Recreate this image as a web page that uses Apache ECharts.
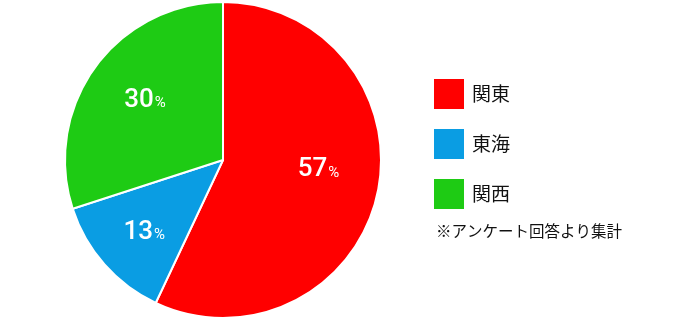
<!DOCTYPE html>
<html><head><meta charset="utf-8">
<script src="https://cdn.jsdelivr.net/npm/echarts@6/dist/echarts.min.js"></script>
<style>html,body{margin:0;padding:0;background:#fff}#c{width:690px;height:320px}</style>
</head><body><div id="c"></div>
<script>
const categories = ['関東', '東海', '関西'];
const values = [57, 13, 30];
const colors = ['#ff0000', '#0a9de3', '#1ecb14'];
const note = '※アンケート回答より集計';

const labelOffsets = [[-7, -13], [0, 3], [7, 2]];
const chart = echarts.init(document.getElementById('c'));
const data = categories.map((n, i) => ({ name: n, value: values[i], itemStyle: { color: colors[i] } }));
chart.setOption({
  animation: false,
  legend: {
    orient: 'vertical', left: 434, top: 79, padding: 0,
    itemWidth: 30, itemHeight: 30, itemGap: 20,
    icon: 'rect',
    itemStyle: { borderWidth: 0 },
    data: categories,
    textStyle: { fontSize: 19, color: '#111', fontFamily: 'Noto Sans CJK JP', padding: [0, 0, 0, 3] }
  },
  graphic: [{
    type: 'text', left: 436, top: 223,
    style: { text: note, fontSize: 15.5, fill: '#111', fontFamily: 'Noto Sans CJK JP' }
  }],
  series: [{
    type: 'pie', center: [223, 160], radius: [0, 158], startAngle: 90, clockwise: true,
    data: data,
    label: { show: false }, labelLine: { show: false },
    itemStyle: { borderColor: '#fff', borderWidth: 2 },
    emphasis: { disabled: true }
  }, {
    type: 'pie', center: [223, 160], radius: [46, 158], startAngle: 90, clockwise: true,
    data: data.map((d, i) => ({ name: d.name, value: d.value, itemStyle: { color: 'rgba(0,0,0,0)' },
      label: { offset: labelOffsets[i] } })),
    silent: true, legendHoverLink: false,
    itemStyle: { borderWidth: 0 },
    label: {
      show: true, position: 'inside',
      formatter: p => '{n|' + p.value + '}{p|%}',
      rich: {
        n: { fontSize: 26, color: '#fff', fontFamily: 'Roboto', fontWeight: 500 },
        p: { fontSize: 15, color: '#fff', fontFamily: 'Roboto', padding: [6, 0, 0, 1] }
      }
    },
    labelLine: { show: false },
    emphasis: { disabled: true }
  }]
});
</script></body></html>
